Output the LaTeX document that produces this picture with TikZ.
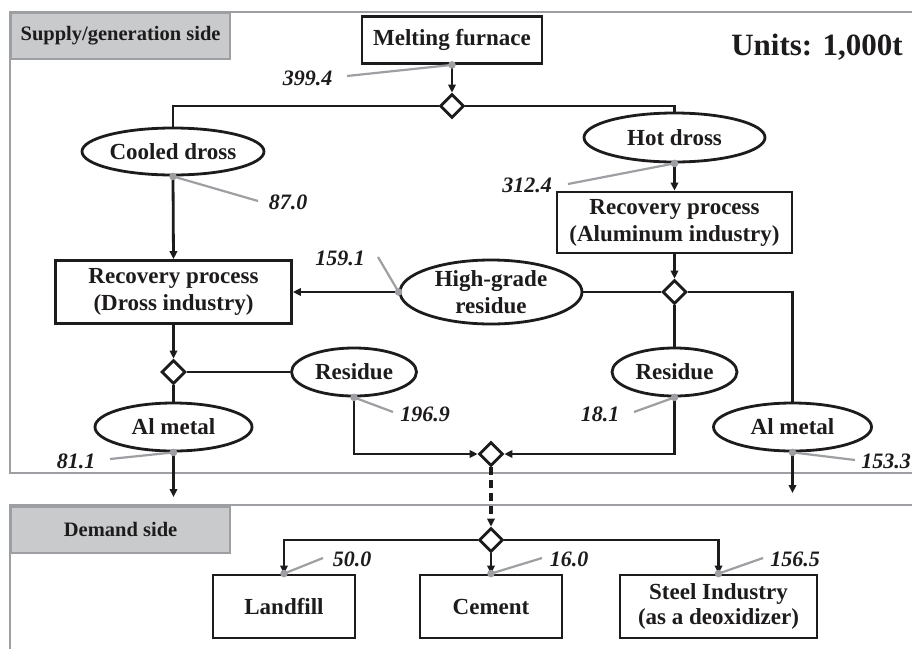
\documentclass[tikz,border=0pt]{standalone}
\usepackage{fontspec}
\setmainfont{Liberation Serif}
\usetikzlibrary{shapes.geometric,arrows.meta}
\definecolor{ink}{HTML}{1E1B1C}
\definecolor{panelgray}{HTML}{9D9FA2}
\definecolor{labelfill}{HTML}{C9CACC}
\definecolor{leadgray}{HTML}{9D9FA2}
\begin{document}
\begin{tikzpicture}[x=1pt,y=-1pt,
  every node/.style={text=ink},
  mainfont/.style={font=\fontsize{23}{27}\selectfont\bfseries},
  procbox/.style={draw=ink,line width=2.8pt,rectangle,inner sep=0pt,align=center,mainfont},
  oval/.style={draw=ink,line width=2.8pt,ellipse,inner sep=0pt,align=center,mainfont},
  junc/.style={draw=ink,line width=2.8pt,diamond,fill=white,minimum width=24pt,minimum height=24pt,inner sep=0pt},
  flow/.style={draw=ink,line width=2.8pt},
  arr/.style={flow,-{Triangle[length=8pt,width=7.5pt]}},
  lead/.style={draw=leadgray,line width=2.2pt},
  leaddot/.style={fill=leadgray},
  num/.style={font=\fontsize{22}{24}\selectfont\bfseries\itshape,inner sep=0pt},
  panel/.style={draw=panelgray,line width=2.8pt},
  panellabel/.style={draw=panelgray,fill=labelfill,line width=2.2pt,anchor=north west,inner sep=0pt,
     minimum width=219pt,minimum height=46pt,font=\fontsize{20.5}{22}\selectfont\bfseries}
]
\useasboundingbox (0,0) rectangle (912,648);
\fill[white] (0,0) rectangle (912,648);

% panels
\draw[panel] (914,12) -- (10,12) -- (10,473) -- (914,473);
\draw[panel] (914,505) -- (10,505) -- (10,650);
\node[panellabel] (suplab) at (10,12) {Supply/generation side};
\node[panellabel] (demlab) at (10,505.5) {Demand side};
\node[font=\fontsize{31}{33}\selectfont\bfseries,anchor=base,inner sep=0pt] (units) at (817,55) {Units: 1,000t};

% nodes
\node[procbox,minimum width=180pt,minimum height=47pt] (furn) at (452,40) {Melting furnace};
\node[junc] (j1) at (452,106) {};
\node[oval,minimum width=182pt,minimum height=47pt] (cool) at (173,151.5) {Cooled dross};
\node[oval,minimum width=181pt,minimum height=49pt] (hot) at (674.5,137.5) {Hot dross};
\node[procbox,minimum width=236pt,minimum height=63pt] (rpd) at (173.5,292) {Recovery process\\(Dross industry)};
\node[procbox,minimum width=235pt,minimum height=61pt] (rpa) at (674.5,222.5) {Recovery process\\(Aluminum industry)};
\node[junc] (j2) at (674.5,292) {};
\node[oval,minimum width=182pt,minimum height=64pt] (hgr) at (491,292) {High-grade\\residue};
\node[junc] (j4) at (173.5,372) {};
\node[oval,minimum width=125pt,minimum height=48pt] (resL) at (354,372) {Residue};
\node[oval,minimum width=125pt,minimum height=48pt] (resR) at (674.5,372) {Residue};
\node[oval,minimum width=157pt,minimum height=48pt] (alL) at (173.5,427) {Al metal};
\node[oval,minimum width=158pt,minimum height=48pt] (alR) at (792.5,427) {Al metal};
\node[junc] (j3) at (491,454) {};
\node[junc] (j5) at (491,540) {};
\node[procbox,minimum width=142pt,minimum height=63pt] (land) at (284,606.5) {Landfill};
\node[procbox,minimum width=142pt,minimum height=63pt] (cem) at (491,606.5) {Cement};
\node[procbox,minimum width=197pt,minimum height=63pt,font=\fontsize{23}{25}\selectfont\bfseries] (steel) at (718.5,606.5) {Steel Industry\\(as a deoxidizer)};

\coordinate (alLend) at (173.5,497);
\coordinate (alRend) at (792.5,493);

% connectors
\draw[arr] (furn.south) -- (j1.north);
\draw[flow] (j1.west) -| (cool.north);
\draw[flow] (j1.east) -| (hot.north);
\draw[arr] (cool.south) -- (rpd.north);
\draw[arr] (hot.south) -- (rpa.north);
\draw[arr] (rpa.south) -- (j2.north);
\draw[flow] (j2.west) -- (hgr.east);
\draw[arr] (hgr.west) -- (rpd.east);
\draw[flow] (j2.east) -| (alR.north);
\draw[flow] (j2.south) -- (resR.north);
\draw[arr] (resR.south) |- (j3.east);
\draw[arr] (rpd.south) -- (j4.north);
\draw[flow] (j4.east) -- (resL.west);
\draw[flow] (j4.south) -- (alL.north);
\draw[arr] (resL.south) |- (j3.west);
\draw[arr] (alL.south) -- (alLend);
\draw[arr] (alR.south) -- (alRend);
\draw[arr,line width=3.2pt,dash pattern=on 8pt off 5pt] (j3.south) -- (j5.north);
\draw[arr] (j5.west) -| (land.north);
\draw[arr] (j5.south) -- (cem.north);
\draw[arr] (j5.east) -| (steel.north);

% leaders and values
\draw[lead] (furn.south) -- (347,76);
\fill[leaddot] (furn.south) circle (3.8pt);
\node[num] (v1) at (307.5,78) {399.4};

\draw[lead] (cool.south) -- (258,201);
\fill[leaddot] (cool.south) circle (3.8pt);
\node[num] (v2) at (288,202) {87.0};

\draw[lead] (hot.south) -- (568,184);
\fill[leaddot] (hot.south) circle (3.8pt);
\node[num] (v3) at (527,185) {312.4};

\draw[lead] (hgr.west) -- (378,257);
\fill[leaddot] (hgr.west) circle (3.8pt);
\node[num] (v4) at (340,258) {159.1};

\draw[lead] (resL.south) -- (393,412);
\fill[leaddot] (resL.south) circle (3.8pt);
\node[num] (v5) at (425,414) {196.9};

\draw[lead] (resR.south) -- (634,412);
\fill[leaddot] (resR.south) circle (3.8pt);
\node[num] (v6) at (600,414) {18.1};

\draw[lead] (alL.south) -- (110,459);
\fill[leaddot] (alL.south) circle (3.8pt);
\node[num] (v7) at (76,461) {81.1};

\draw[lead] (alR.south) -- (855,460);
\fill[leaddot] (alR.south) circle (3.8pt);
\node[num] (v8) at (886,461) {153.3};

\draw[lead] (land.north) -- (323,558);
\fill[leaddot] (land.north) circle (3.8pt);
\node[num] (v9) at (352,559) {50.0};

\draw[lead] (cem.north) -- (542,558);
\fill[leaddot] (cem.north) circle (3.8pt);
\node[num] (v10) at (569,559) {16.0};

\draw[lead] (steel.north) -- (763,558);
\fill[leaddot] (steel.north) circle (3.8pt);
\node[num] (v11) at (795,559) {156.5};
\end{tikzpicture}
\end{document}
